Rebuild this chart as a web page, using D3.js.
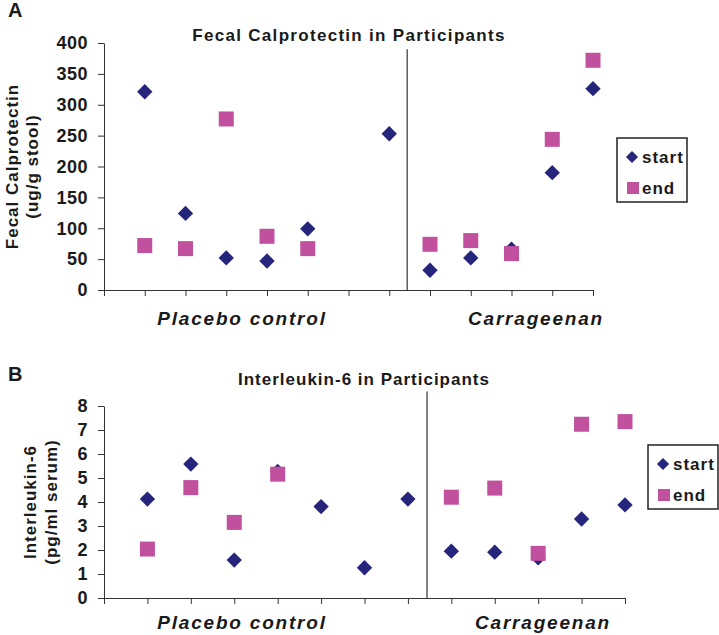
<!DOCTYPE html>
<html>
<head>
<meta charset="utf-8">
<script src="https://cdn.jsdelivr.net/npm/d3@7/dist/d3.min.js"></script>
<style>
  body { margin: 0; background: #fff; }
  text { font-family: "Liberation Sans", Arial, sans-serif; font-weight: bold; fill: #1a1a1a; }
</style>
</head>
<body>
<svg id="chart"></svg>
<script>
const width = 719;
const height = 635;

// participant slots along the x axis (6 placebo, then carrageenan)
const slots = [1, 2, 3, 4, 5, 6, 7, 8, 9, 10, 11, 12];

// panel A: fecal calprotectin (ug/g stool)
const calStart = [321, 124, 52, 47, 99, null, 253, 32, 52, 66, 190, 326];
const calEnd = [72, 67, 277, 87, 67, null, null, 74, 80, 59, 244, 372];
const calTicks = [0, 50, 100, 150, 200, 250, 300, 350, 400];

// panel B: interleukin-6 (pg/ml serum)
const il6Start = [4.12, 5.58, 1.58, 5.27, 3.81, 1.26, 4.12, 1.95, 1.91, 1.67, 3.29, 3.88];
const il6End = [2.04, 4.6, 3.15, 5.16, null, null, null, 4.2, 4.58, 1.86, 7.24, 7.35];
const il6Ticks = [0, 1, 2, 3, 4, 5, 6, 7, 8];

const groups = ['Placebo control', 'Carrageenan'];
const seriesNames = ['start', 'end'];
const startColor = '#25257c';
const endColor = '#c1509f';

const svg = d3.select('#chart').attr('width', width).attr('height', height);

const panels = [
    {
        letter: 'A', letterY: 17,
        title: 'Fecal Calprotectin in Participants', titleX: 349, titleY: 41, titleLs: 1.3,
        yLabel: ['Fecal Calprotectin', '(ug/g stool)'], yLabelX: [18, 38],
        start: calStart, end: calEnd, ticks: calTicks, yMax: 400, dividerTop: 390,
        left: 104, right: 593, top: 43, bottom: 290,
        groupX: [242, 536], groupY: 325,
        legend: {x: 617, y: 138}
    },
    {
        letter: 'B', letterY: 381,
        title: 'Interleukin-6 in Participants', titleX: 364, titleY: 385, titleLs: 1,
        yLabel: ['Interleukin-6', '(pg/ml serum)'], yLabelX: [36, 57],
        start: il6Start, end: il6End, ticks: il6Ticks, yMax: 8, dividerTop: 8.6,
        left: 104, right: 625, top: 406, bottom: 598,
        groupX: [242, 543], groupY: 629,
        legend: {x: 648, y: 445}
    }
];

const divider = 7.44;

panels.forEach(p => {
    const g = svg.append('g');
    const x = d3.scaleLinear().domain([0, 12]).range([p.left, p.right]);
    const y = d3.scaleLinear().domain([0, p.yMax]).range([p.bottom, p.top]);

    g.append('text').attr('x', 8).attr('y', p.letterY)
        .style('font-size', '20px').text(p.letter);

    g.append('text').attr('x', p.titleX).attr('y', p.titleY)
        .attr('text-anchor', 'middle')
        .style('font-size', '17px').style('letter-spacing', p.titleLs + 'px')
        .text(p.title);

    // axes
    const xAxis = g.append('g').attr('transform', `translate(0, ${p.bottom})`)
        .call(d3.axisBottom(x).tickValues([0].concat(slots)).tickFormat('').tickSize(6).tickSizeOuter(0));
    const yAxis = g.append('g').attr('transform', `translate(${p.left}, 0)`)
        .call(d3.axisLeft(y).tickValues(p.ticks).tickSize(6).tickSizeOuter(0).tickPadding(10));
    [xAxis, yAxis].forEach(a => {
        a.select('.domain').attr('stroke', '#333');
        a.selectAll('.tick line').attr('stroke', '#333');
    });
    yAxis.selectAll('.tick text')
        .style('font-size', '18px').style('letter-spacing', '0.5px')
        .attr('fill', '#1a1a1a').attr('font-family', null);

    // divider between groups
    g.append('line')
        .attr('x1', x(divider)).attr('x2', x(divider))
        .attr('y1', y(p.dividerTop)).attr('y2', y(0))
        .attr('stroke', '#333').attr('stroke-width', 1.2);

    // y label, two lines
    p.yLabel.forEach((t, i) => {
        g.append('text')
            .attr('transform', `translate(${p.yLabelX[i]}, ${(p.top + p.bottom) / 2}) rotate(-90)`)
            .attr('text-anchor', 'middle')
            .style('font-size', '17px').style('letter-spacing', '1px')
            .text(t);
    });

    // group labels
    groups.forEach((t, i) => {
        g.append('text').attr('x', p.groupX[i]).attr('y', p.groupY)
            .attr('text-anchor', 'middle')
            .style('font-size', '19px').style('font-style', 'italic').style('letter-spacing', '1.8px')
            .text(t);
    });

    const startPts = slots.map((s, i) => ({s, v: p.start[i]})).filter(d => d.v != null);
    const endPts = slots.map((s, i) => ({s, v: p.end[i]})).filter(d => d.v != null);

    g.selectAll('.start').data(startPts).enter().append('path')
        .attr('class', 'start')
        .attr('d', d3.symbol(d3.symbolDiamond2, 150))
        .attr('transform', d => `translate(${x(d.s)}, ${y(d.v)})`)
        .attr('fill', startColor);

    g.selectAll('.end').data(endPts).enter().append('rect')
        .attr('class', 'end')
        .attr('x', d => x(d.s) - 7.5).attr('y', d => y(d.v) - 7.5)
        .attr('width', 15).attr('height', 15)
        .attr('fill', endColor);

    // legend
    const lg = g.append('g').attr('transform', `translate(${p.legend.x}, ${p.legend.y})`);
    lg.append('rect').attr('x', 0).attr('y', 0).attr('width', 70).attr('height', 64)
        .attr('fill', '#fff').attr('stroke', '#222').attr('stroke-width', 1.5);
    lg.append('path').attr('d', d3.symbol(d3.symbolDiamond2, 95))
        .attr('transform', 'translate(15, 19)').attr('fill', startColor);
    lg.append('rect').attr('x', 10).attr('y', 44).attr('width', 12).attr('height', 12).attr('fill', endColor);
    seriesNames.forEach((t, i) => {
        lg.append('text').attr('x', 25).attr('y', 25 + i * 31)
            .style('font-size', '17px').style('letter-spacing', '1px')
            .text(t);
    });
});
</script>
</body>
</html>
